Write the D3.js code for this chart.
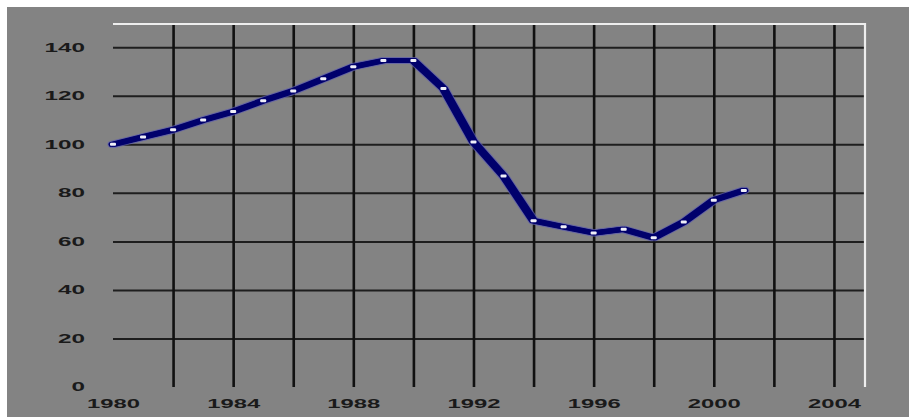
<!DOCTYPE html>
<html>
<head>
<meta charset="utf-8">
<script src="https://cdn.jsdelivr.net/npm/d3@7"></script>
<style>
  html, body { margin: 0; padding: 0; background: #fff; }
  svg { display: block; }
</style>
</head>
<body>
<svg id="chart"></svg>
<script>
const width = 909;
const height = 417;

// data
const years = [1980, 1981, 1982, 1983, 1984, 1985, 1986, 1987, 1988, 1989, 1990,
  1991, 1992, 1993, 1994, 1995, 1996, 1997, 1998, 1999, 2000, 2001];
const values = [100, 103, 106, 110, 113.5, 118, 122, 127, 132, 134.5, 134.5,
  123, 101, 87, 68.5, 66, 63.5, 65, 61.5, 68, 77, 81];
const gridYears = [1982, 1984, 1986, 1988, 1990, 1992, 1994, 1996, 1998, 2000, 2002, 2004];
const labelYears = [1980, 1984, 1988, 1992, 1996, 2000, 2004];
const yTicks = [0, 20, 40, 60, 80, 100, 120, 140];

const points = years.map((yr, i) => ({ year: yr, value: values[i] }));

const svg = d3.select("#chart").attr("width", width).attr("height", height);

// white strip top / left, grey panel
svg.append("rect").attr("width", width).attr("height", height).attr("fill", "#fff");
svg.append("rect").attr("x", 7).attr("y", 7).attr("width", width - 7).attr("height", height - 7)
  .attr("fill", "#838383");

const x = d3.scaleLinear().domain([1980, 2005]).range([113, 864]);
const y = d3.scaleLinear().domain([0, 150]).range([387, 23]);

// horizontal grid
const hGrid = svg.append("g")
  .attr("transform", `translate(${x(1980)},0)`)
  .call(d3.axisLeft(y).tickValues(yTicks.filter((d) => d > 0))
    .tickSize(-(x(2005) - x(1980))).tickFormat(""));
hGrid.select(".domain").remove();
hGrid.selectAll("line").attr("stroke", "#1e1e1e").attr("stroke-width", 2);

// vertical grid
const vGrid = svg.append("g")
  .attr("transform", `translate(0,${y(0)})`)
  .call(d3.axisBottom(x).tickValues(gridYears).tickSize(-(y(0) - y(150))).tickFormat(""));
vGrid.select(".domain").remove();
vGrid.selectAll("line").attr("stroke", "#111").attr("stroke-width", 2.6);

// light frame on top and right
svg.append("path")
  .attr("d", `M${x(1980)},${y(150) + 1}H${x(2005) + 1}V${y(0)}`)
  .attr("fill", "none")
  .attr("stroke", "#eeeeee")
  .attr("stroke-width", 2.2);

// y labels
const yAxis = svg.append("g")
  .attr("transform", "translate(85,0)")
  .call(d3.axisLeft(y).tickValues(yTicks).tickSize(0).tickPadding(0));
yAxis.select(".domain").remove();
yAxis.selectAll("text")
  .attr("font-family", "Liberation Sans, Arial, sans-serif")
  .attr("font-size", 12)
  .attr("font-weight", "bold")
  .attr("fill", "#1a1a1a")
  .attr("textLength", (d) => String(d).length * 13.5)
  .attr("lengthAdjust", "spacingAndGlyphs");

// x labels
const xAxis = svg.append("g")
  .attr("transform", `translate(0,${y(0)})`)
  .call(d3.axisBottom(x).tickValues(labelYears).tickSize(0).tickPadding(12).tickFormat(d3.format("d")));
xAxis.select(".domain").remove();
xAxis.selectAll("text")
  .attr("font-family", "Liberation Sans, Arial, sans-serif")
  .attr("font-size", 12)
  .attr("font-weight", "bold")
  .attr("fill", "#1a1a1a")
  .attr("textLength", 53)
  .attr("lengthAdjust", "spacingAndGlyphs");

// the series line: drawn with a wide flat pen
const line = d3.line().x((d) => x(d.year)).y((d) => y(d.value));

const halo = svg.append("g").attr("fill", "none").attr("stroke", "#5c5cb0")
  .attr("stroke-width", 7).attr("stroke-linejoin", "round").attr("stroke-linecap", "round")
  .attr("opacity", 0.7);
const core = svg.append("g").attr("fill", "none").attr("stroke", "#00006c")
  .attr("stroke-width", 5).attr("stroke-linejoin", "round").attr("stroke-linecap", "round");

[-2, 0, 2].forEach((dx) => {
  halo.append("path").datum(points).attr("d", line).attr("transform", `translate(${dx},0)`);
});
[-2, 0, 2].forEach((dx) => {
  core.append("path").datum(points).attr("d", line).attr("transform", `translate(${dx},0)`);
});

// markers
svg.append("g")
  .selectAll("rect")
  .data(points)
  .join("rect")
  .attr("x", (d) => x(d.year) - 3)
  .attr("y", (d) => y(d.value) - 1.5)
  .attr("width", 6)
  .attr("height", 3)
  .attr("rx", 1)
  .attr("fill", "#eeeef8");
</script>
</body>
</html>
